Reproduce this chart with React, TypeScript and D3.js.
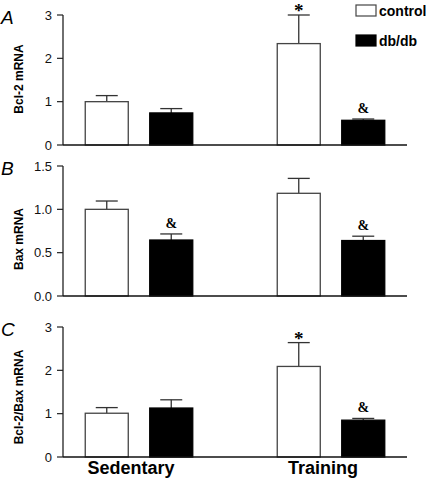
import React from "react";
import * as d3 from "d3";

const groups = ["Sedentary", "Training"];
const series = ["control", "db/db"];

const bcl2Mean = [[1.0, 0.74], [2.34, 0.57]];
const bcl2Err = [[0.14, 0.1], [0.66, 0.03]];
const bcl2Marks = [["", ""], ["*", "&"]];

const baxMean = [[1.0, 0.646], [1.185, 0.64]];
const baxErr = [[0.096, 0.07], [0.172, 0.05]];
const baxMarks = [["", "&"], ["", "&"]];

const ratioMean = [[1.01, 1.13], [2.09, 0.85]];
const ratioErr = [[0.13, 0.19], [0.55, 0.04]];
const ratioMarks = [["", ""], ["*", "&"]];

const bcl2Ticks = [0, 1, 2, 3];
const baxTicks = [0, 0.5, 1.0, 1.5];
const ratioTicks = [0, 1, 2, 3];

const panels = [
  { letter: "A", title: "Bcl-2 mRNA", mean: bcl2Mean, err: bcl2Err, marks: bcl2Marks, ticks: bcl2Ticks, fmt: d3.format("d"), max: 3, top: 15, bottom: 145, titleY: 79 },
  { letter: "B", title: "Bax mRNA", mean: baxMean, err: baxErr, marks: baxMarks, ticks: baxTicks, fmt: d3.format(".1f"), max: 1.5, top: 166, bottom: 296, titleY: 239 },
  { letter: "C", title: "Bcl-2/Bax mRNA", mean: ratioMean, err: ratioErr, marks: ratioMarks, ticks: ratioTicks, fmt: d3.format("d"), max: 3, top: 327, bottom: 457, titleY: 397 },
];

const AXIS_X = 63;
const AXIS_END = 407;
const SANS = "Arial, 'Liberation Sans', Helvetica, sans-serif";
const SERIF = "'Times New Roman', 'Liberation Serif', serif";

export default function App() {
  const x0 = d3.scaleBand<string>().domain(groups).range([43, 427]).padding(0);
  const x1 = d3
    .scaleBand<string>()
    .domain(series)
    .range([0, x0.bandwidth()])
    .paddingInner(0.333)
    .paddingOuter(0.655);
  const bw = x1.bandwidth();

  return (
    <svg width={426} height={482} style={{ position: "absolute", left: 0, top: 0, background: "#fff" }}>
      {panels.map((p, pi) => {
        const y = d3.scaleLinear().domain([0, p.max]).range([p.bottom, p.top]);
        return (
          <g key={pi}>
            <text x={1} y={p.top + 9} fontFamily={SANS} fontStyle="italic" fontSize={19}>
              {p.letter}
            </text>
            <text
              transform={`translate(23,${p.titleY}) rotate(-90)`}
              textAnchor="middle"
              fontFamily={SANS}
              fontWeight="bold"
              fontSize={12}
            >
              {p.title}
            </text>
            {p.ticks.map((t) => (
              <g key={t}>
                <line x1={AXIS_X - 6} x2={AXIS_X} y1={y(t)} y2={y(t)} stroke="#222" strokeWidth={1.2} />
                <text x={AXIS_X - 11} y={y(t)} dy="0.36em" textAnchor="end" fontFamily={SANS} fontSize={13} fill="#111">
                  {p.fmt(t)}
                </text>
              </g>
            ))}
            {groups.map((g, gi) =>
              series.map((s, si) => {
                const v = p.mean[gi][si];
                const e = p.err[gi][si];
                const bx = (x0(g) as number) + (x1(s) as number);
                const cx = bx + bw / 2;
                const mark = p.marks[gi][si];
                const eTop = y(v + e);
                return (
                  <g key={g + s}>
                    <line x1={cx} x2={cx} y1={y(v)} y2={eTop} stroke="#333" strokeWidth={1.3} />
                    <line x1={cx - 11} x2={cx + 11} y1={eTop} y2={eTop} stroke="#333" strokeWidth={1.3} />
                    <rect
                      x={bx}
                      y={y(v)}
                      width={bw}
                      height={y(0) - y(v)}
                      fill={si === 0 ? "#fff" : "#000"}
                      stroke={si === 0 ? "#444" : "#000"}
                      strokeWidth={1.3}
                    />
                    {mark === "*" && (
                      <text x={cx} y={eTop + 2} textAnchor="middle" fontFamily={SERIF} fontWeight="bold" fontSize={19}>
                        *
                      </text>
                    )}
                    {mark === "&" && (
                      <text x={cx} y={eTop - 6} textAnchor="middle" fontFamily={SERIF} fontWeight="bold" fontSize={14}>
                        &amp;
                      </text>
                    )}
                  </g>
                );
              })
            )}
            <line x1={AXIS_X} x2={AXIS_X} y1={p.top} y2={p.bottom} stroke="#222" strokeWidth={1.3} />
            <line x1={AXIS_X} x2={AXIS_END} y1={p.bottom} y2={p.bottom} stroke="#111" strokeWidth={1.4} />
          </g>
        );
      })}
      {groups.map((g) => (
        <text
          key={g}
          x={(x0(g) as number) + x0.bandwidth() / 2 - 8}
          y={474}
          textAnchor="middle"
          fontFamily={SANS}
          fontWeight="bold"
          fontSize={18}
        >
          {g}
        </text>
      ))}
      {series.map((s, i) => (
        <g key={s} transform={`translate(356,${5 + i * 30})`}>
          <rect x={0} y={0} width={20} height={11} fill={i === 0 ? "#fff" : "#000"} stroke={i === 0 ? "#444" : "#000"} strokeWidth={1.2} />
          <text x={23} y={11} fontFamily={SANS} fontWeight="bold" fontSize={14}>
            {s}
          </text>
        </g>
      ))}
    </svg>
  );
}
